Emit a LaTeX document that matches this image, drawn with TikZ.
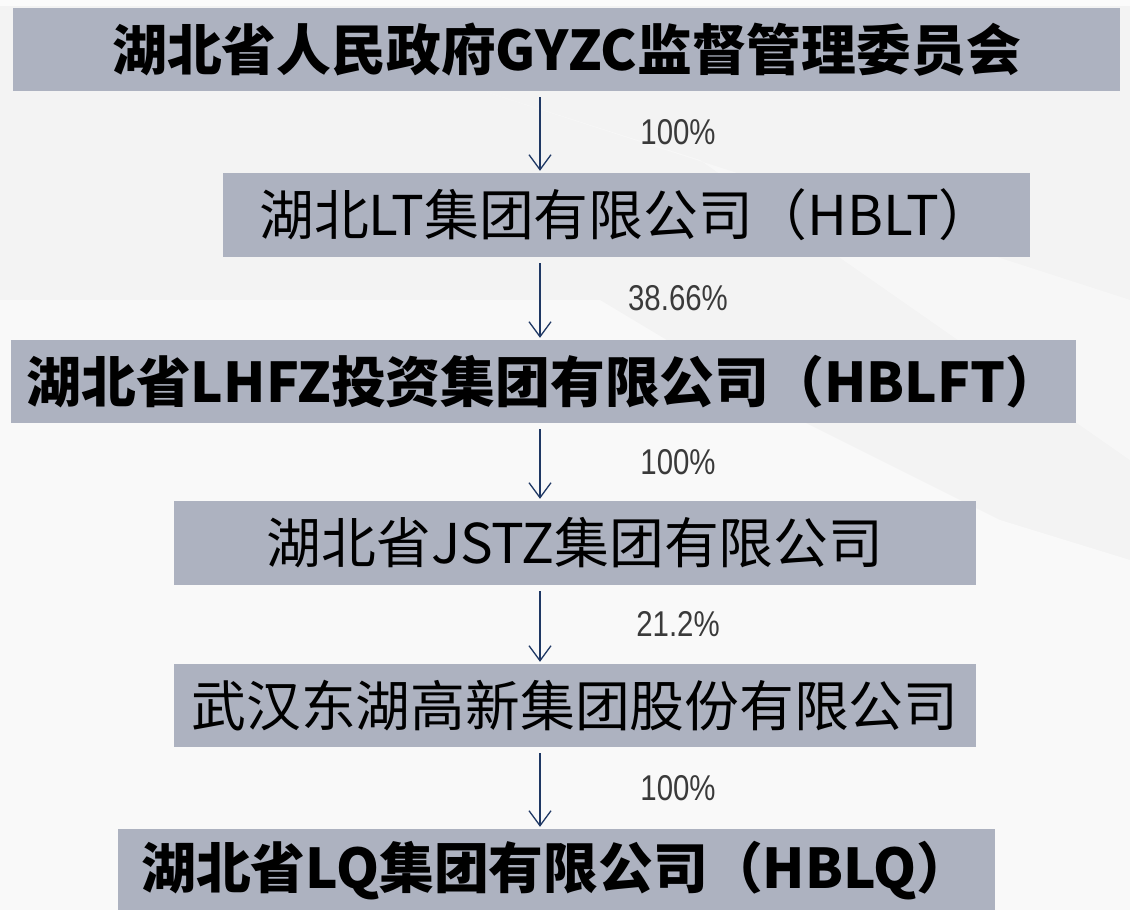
\documentclass[tikz,border=0pt]{standalone}
\usepackage{fontspec}
\newfontfamily\cjk{Noto Sans CJK SC}
\newfontfamily\narrowfont[FakeStretch=0.82]{Liberation Sans}
\usetikzlibrary{arrows.meta}
\definecolor{boxgray}{HTML}{ADB2C0}
\definecolor{bggray}{HTML}{F3F3F3}
\definecolor{navy}{HTML}{1F3864}
\definecolor{labgray}{HTML}{3A3A3A}
\tikzset{
  box/.style={fill=boxgray, draw=none, inner sep=0pt, anchor=center,
    font=\cjk\fontsize{55}{59}\selectfont, text=black},
  boldbox/.style={box, font=\cjk\bfseries\fontsize{55}{59}\selectfont},
  arr/.style={draw=navy, line width=1.3bp, -{Straight Barb[length=15bp,width=22bp,line width=1.3bp]}, shorten <=6bp, shorten >=2bp},
  pct/.style={font=\narrowfont\fontsize{36}{40}\selectfont, text=labgray, xshift=138bp}
}
\begin{document}
\begin{tikzpicture}[x=1bp,y=-1bp]
\useasboundingbox (0,0) rectangle (1130,910);
\fill[bggray] (0,0) rectangle (1130,910);
\fill[white, opacity=0.5] (0,300) -- (600,300) -- (800,420) -- (1000,520) -- (1130,560) -- (1130,910) -- (0,910) -- cycle;
\fill[white, opacity=0.4] (480,90) -- (1130,300) -- (1130,460) -- (700,160) -- cycle;
\fill[white, opacity=0.7] (0,0) rectangle (1130,6);

\node[boldbox, minimum width=1107bp, minimum height=83bp] (b1) at (566.5,49.5) {湖北省人民政府GYZC监督管理委员会};
\node[box, minimum width=807bp, minimum height=84bp] (b2) at (626.5,215) {湖北LT集团有限公司（HBLT）};
\node[boldbox, minimum width=1065bp, minimum height=83bp] (b3) at (543.5,381.5) {湖北省LHFZ投资集团有限公司（HBLFT）};
\node[box, minimum width=802bp, minimum height=84bp] (b4) at (575,543) {湖北省JSTZ集团有限公司};
\node[box, minimum width=802bp, minimum height=83bp] (b5) at (575,705.5) {武汉东湖高新集团股份有限公司};
\node[boldbox, minimum width=877bp, minimum height=83bp] (b6) at (556.5,870.5) {湖北省LQ集团有限公司（HBLQ）};

\coordinate (ax) at (540,0);
\draw[arr] (ax |- b1.south) -- node[pct]{100\%} (ax |- b2.north);
\draw[arr] (ax |- b2.south) -- node[pct]{38.66\%} (ax |- b3.north);
\draw[arr] (ax |- b3.south) -- node[pct]{100\%} (ax |- b4.north);
\draw[arr] (ax |- b4.south) -- node[pct]{21.2\%} (ax |- b5.north);
\draw[arr] (ax |- b5.south) -- node[pct]{100\%} (ax |- b6.north);
\end{tikzpicture}
\end{document}
